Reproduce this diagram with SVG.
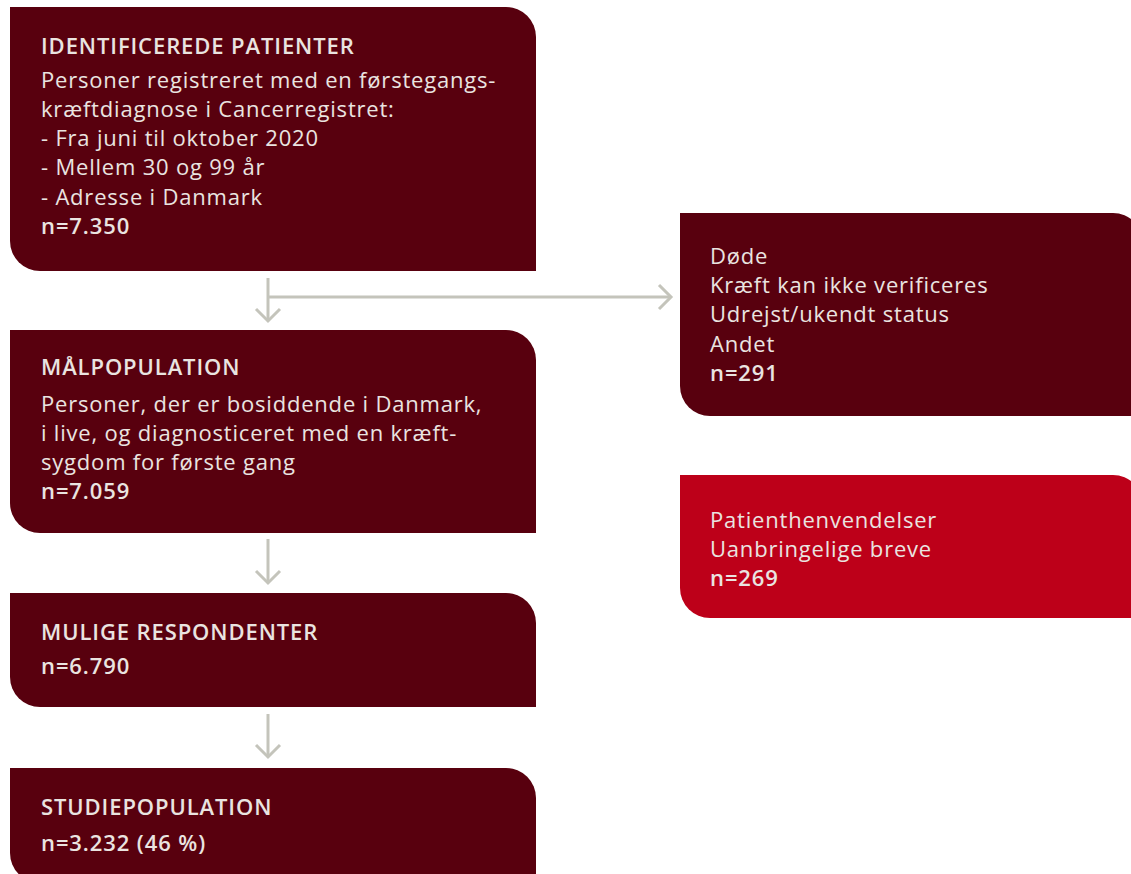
<svg xmlns="http://www.w3.org/2000/svg" width="1131" height="874" viewBox="0 0 1131 874">
  <defs>
    <style>
      .dark { fill: #58000E; }
      .red { fill: #BD0019; }
      .t { font-family: "Open Sans", "Liberation Sans", sans-serif; font-size: 22px; fill: #EAE4E0; font-weight: 400; letter-spacing: 0.8px; }
      .b { font-weight: 600; letter-spacing: 0.9px; }
      .conn { fill: none; stroke: #C4C4BB; stroke-width: 3; }
    </style>
  </defs>
  <rect width="1131" height="874" fill="#FFFFFF"/>

  <!-- boxes: rounded top-right and bottom-left corners -->
  <g id="identificerede">
    <path class="dark" d="M10 7 H506 A30 30 0 0 1 536 37 V271 H40 A30 30 0 0 1 10 241 Z"/>
    <text class="t b" x="41" y="54">IDENTIFICEREDE PATIENTER</text>
    <text class="t" x="41" y="88">Personer registreret med en førstegangs-</text>
    <text class="t" x="41" y="117">kræftdiagnose i Cancerregistret:</text>
    <text class="t" x="41" y="146">- Fra juni til oktober 2020</text>
    <text class="t" x="41" y="175">- Mellem 30 og 99 år</text>
    <text class="t" x="41" y="205">- Adresse i Danmark</text>
    <text class="t b" x="41" y="234">n=7.350</text>
  </g>

  <g id="maalpopulation">
    <path class="dark" d="M10 330 H506 A30 30 0 0 1 536 360 V533 H40 A30 30 0 0 1 10 503 Z"/>
    <text class="t b" x="41" y="375">MÅLPOPULATION</text>
    <text class="t" x="41" y="412">Personer, der er bosiddende i Danmark,</text>
    <text class="t" x="41" y="441">i live, og diagnosticeret med en kræft-</text>
    <text class="t" x="41" y="470">sygdom for første gang</text>
    <text class="t b" x="41" y="499">n=7.059</text>
  </g>

  <g id="mulige">
    <path class="dark" d="M10 593 H506 A30 30 0 0 1 536 623 V707 H40 A30 30 0 0 1 10 677 Z"/>
    <text class="t b" x="41" y="640">MULIGE RESPONDENTER</text>
    <text class="t b" x="41" y="674">n=6.790</text>
  </g>

  <g id="studiepopulation">
    <path class="dark" d="M10 768 H506 A30 30 0 0 1 536 798 V883 H40 A30 30 0 0 1 10 853 Z"/>
    <text class="t b" x="41" y="815">STUDIEPOPULATION</text>
    <text class="t b" x="41" y="851">n=3.232 (46 %)</text>
  </g>

  <g id="eksklusion">
    <path class="dark" d="M680 213 H1113 A30 30 0 0 1 1143 243 V416 H710 A30 30 0 0 1 680 386 Z"/>
    <text class="t" x="710" y="264">Døde</text>
    <text class="t" x="710" y="293">Kræft kan ikke verificeres</text>
    <text class="t" x="710" y="322">Udrejst/ukendt status</text>
    <text class="t" x="710" y="352">Andet</text>
    <text class="t b" x="710" y="381">n=291</text>
  </g>

  <g id="frafald">
    <path class="red" d="M680 475 H1113 A30 30 0 0 1 1143 505 V618 H710 A30 30 0 0 1 680 588 Z"/>
    <text class="t" x="710" y="528">Patienthenvendelser</text>
    <text class="t" x="710" y="557">Uanbringelige breve</text>
    <text class="t b" x="710" y="586">n=269</text>
  </g>

  <!-- connectors with open chevron heads -->
  <g id="connectors" class="conn">
    <path d="M268 278 V321"/>
    <path d="M256 309 L268 321 L280 309"/>
    <path d="M268 297 H671"/>
    <path d="M659 285 L671 297 L659 309"/>
    <path d="M268 539 V583"/>
    <path d="M256 571 L268 583 L280 571"/>
    <path d="M268 714 V757"/>
    <path d="M256 745 L268 757 L280 745"/>
  </g>
</svg>
